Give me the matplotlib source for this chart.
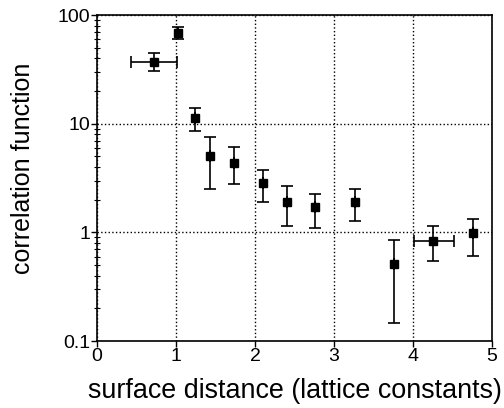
import numpy as np
import matplotlib
matplotlib.use("Agg")
import matplotlib.pyplot as plt
from matplotlib.ticker import LogLocator, FixedLocator, NullFormatter

# datos
distancia = [0.72, 1.02, 1.24, 1.43, 1.73, 2.10, 2.40, 2.76, 3.27, 3.76, 4.25, 4.76]
correlacion = [37, 69, 11.4, 5.0, 4.4, 2.86, 1.90, 1.71, 1.90, 0.51, 0.83, 0.98]
err_sup = [44.8, 78, 13.9, 7.55, 6.06, 3.79, 2.66, 2.28, 2.53, 0.85, 1.14, 1.34]
err_inf = [30.6, 59.8, 8.6, 2.53, 2.80, 1.90, 1.14, 1.09, 1.27, 0.146, 0.546, 0.607]
x_izq = [0.43, 1.02, 1.24, 1.43, 1.73, 2.10, 2.40, 2.76, 3.27, 3.76, 4.01, 4.76]
x_der = [1.01, 1.02, 1.24, 1.43, 1.73, 2.10, 2.40, 2.76, 3.27, 3.76, 4.52, 4.76]

x = np.array(distancia)
y = np.array(correlacion)
yerr = [y - np.array(err_inf), np.array(err_sup) - y]
xerr = [x - np.array(x_izq), np.array(x_der) - x]

plt.rcParams['font.family'] = ['Liberation Sans', 'DejaVu Sans']

fig = plt.figure(figsize=(5.04, 4.08), dpi=100)
ax = fig.add_axes([0.1925, 0.164, 0.7835, 0.799])

ax.errorbar(x, y, yerr=yerr, xerr=xerr, fmt='s', color='black', ms=6,
            elinewidth=1.2, capsize=4, capthick=1.2)

ax.set_yscale('log')
ax.set_xlim(0, 5)
ax.set_ylim(0.1, 100)
ax.xaxis.set_major_locator(FixedLocator([0, 1, 2, 3, 4, 5]))
ax.yaxis.set_major_locator(FixedLocator([0.1, 1, 10, 100]))
ax.set_yticklabels(['0.1', '1', '10', '100'])
ax.yaxis.set_minor_locator(LogLocator(base=10, subs=np.arange(2, 10)))
ax.yaxis.set_minor_formatter(NullFormatter())

ax.grid(True, which='major', linestyle=':', color='black', linewidth=1)
ax.tick_params(which='major', direction='out', length=4, width=1, labelsize=14, pad=1)
ax.tick_params(which='minor', direction='inout', length=4, width=0.8)
for s in ax.spines.values():
    s.set_linewidth(1.2)

ax.set_xlabel('surface distance (lattice constants)', fontsize=19.4, labelpad=9)
ax.set_ylabel('correlation function', fontsize=18)
ax.yaxis.set_label_coords(-0.157, 0.531)

fig.savefig('out.png', dpi=100)
